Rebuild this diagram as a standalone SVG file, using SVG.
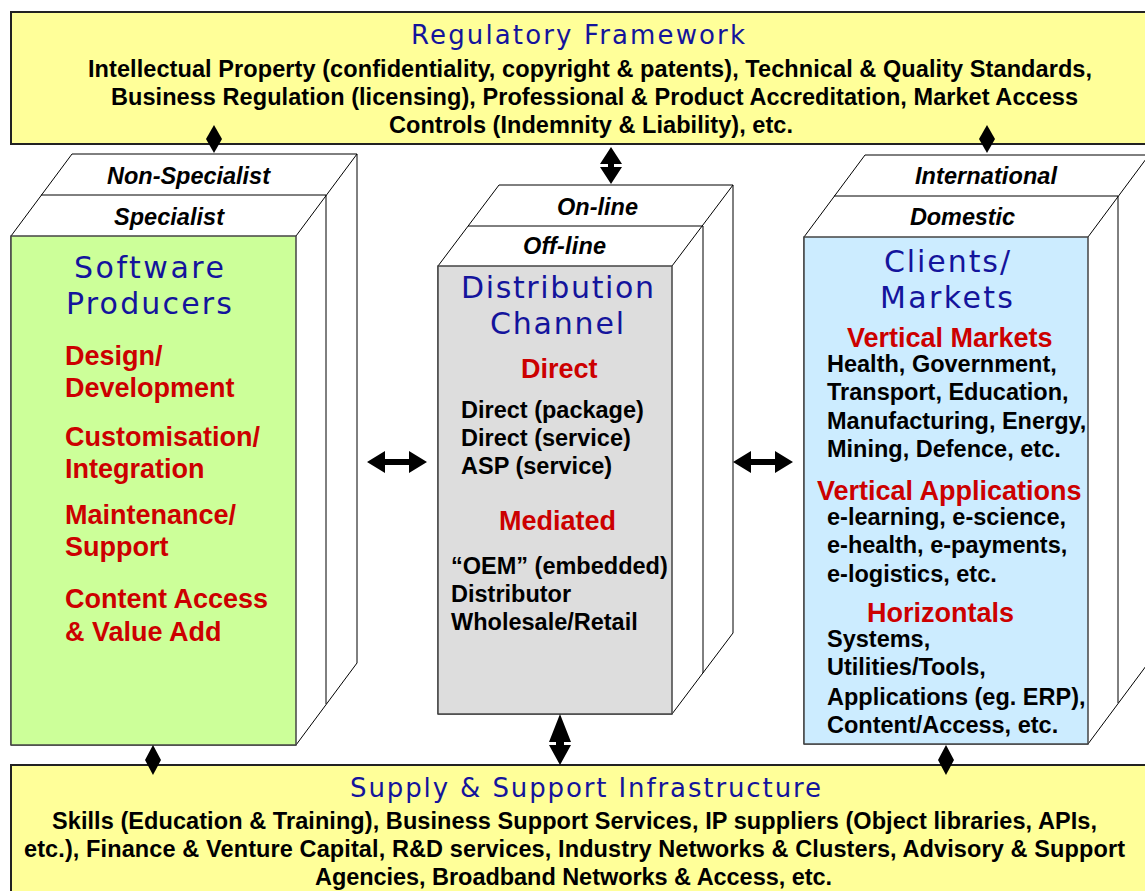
<svg xmlns="http://www.w3.org/2000/svg" width="1145" height="891" viewBox="0 0 1145 891">
<style>
.band{fill:#FFFF99;stroke:#222;stroke-width:2}
.slab{fill:#fff;stroke:#000;stroke-width:1;stroke-linejoin:miter}
.edge{stroke:#000;stroke-width:1;fill:none}
.face{stroke:#444;stroke-width:1.5}
.ttl{font-family:"DejaVu Sans",Verdana,sans-serif;fill:#14149C}
.t1{font-size:26px}
.t2{font-size:30px}
.b{font-family:"Liberation Sans",Arial,sans-serif;font-weight:bold;font-size:23.5px;fill:#000}
.i{font-family:"Liberation Sans",Arial,sans-serif;font-weight:bold;font-style:italic;font-size:23.5px;fill:#000}
.r{font-family:"Liberation Sans",Arial,sans-serif;font-weight:bold;font-size:27px;fill:#CC0000}
.arr{fill:#000}
</style>

<g id="regulatory-framework">
<rect class="band" x="11" y="12" width="1150" height="132"/>
<text class="ttl t1" x="411" y="44" textLength="334" lengthAdjust="spacing">Regulatory Framework</text>
<text class="b" x="88" y="77" textLength="1004" lengthAdjust="spacing">Intellectual Property (confidentiality, copyright &amp; patents), Technical &amp; Quality Standards,</text>
<text class="b" x="111" y="105" textLength="967" lengthAdjust="spacing">Business Regulation (licensing), Professional &amp; Product Accreditation, Market Access</text>
<text class="b" x="389" y="133" textLength="404" lengthAdjust="spacing">Controls (Indemnity &amp; Liability), etc.</text>
</g>

<g id="supply-support">
<rect class="band" x="11" y="765" width="1150" height="140"/>
<text class="ttl t1" x="350" y="797" textLength="471" lengthAdjust="spacing">Supply &amp; Support Infrastructure</text>
<text class="b" x="52" y="829" textLength="1045" lengthAdjust="spacing">Skills (Education &amp; Training), Business Support Services, IP suppliers (Object libraries, APIs,</text>
<text class="b" x="24" y="857" textLength="1101" lengthAdjust="spacing">etc.), Finance &amp; Venture Capital, R&amp;D services, Industry Networks &amp; Clusters, Advisory &amp; Support</text>
<text class="b" x="315" y="885" textLength="517" lengthAdjust="spacing">Agencies, Broadband Networks &amp; Access, etc.</text>
</g>

<g id="software-producers">
<polygon class="slab" points="11,236 72,154 357,154 357,663 296,745 11,745"/>
<line class="edge" x1="41" y1="195" x2="326" y2="195"/>
<line class="edge" x1="326" y1="195" x2="326" y2="704"/>
<line class="edge" x1="296" y1="236" x2="357" y2="154"/>
<rect class="face" x="11" y="236" width="285" height="509" fill="#CCFF99"/>
<text class="i" x="107" y="184" textLength="163" lengthAdjust="spacing">Non-Specialist</text>
<text class="i" x="114" y="225" textLength="110" lengthAdjust="spacing">Specialist</text>
<text class="ttl t2" x="74" y="278" textLength="150" lengthAdjust="spacing">Software</text>
<text class="ttl t2" x="66" y="314" textLength="166" lengthAdjust="spacing">Producers</text>
<text class="r" x="65" y="365">Design/</text>
<text class="r" x="65" y="397">Development</text>
<text class="r" x="65" y="446">Customisation/</text>
<text class="r" x="65" y="478">Integration</text>
<text class="r" x="65" y="524">Maintenance/</text>
<text class="r" x="65" y="556">Support</text>
<text class="r" x="65" y="608">Content Access</text>
<text class="r" x="65" y="641">&amp; Value Add</text>
</g>

<g id="distribution-channel">
<polygon class="slab" points="438,266 499,185 733,185 733,633 672,714 438,714"/>
<line class="edge" x1="468" y1="226" x2="703" y2="226"/>
<line class="edge" x1="703" y1="226" x2="703" y2="673"/>
<line class="edge" x1="672" y1="266" x2="733" y2="185"/>
<rect class="face" x="438" y="266" width="234" height="448" fill="#DDDDDD"/>
<text class="i" x="557" y="215" textLength="81" lengthAdjust="spacing">On-line</text>
<text class="i" x="523" y="254" textLength="83" lengthAdjust="spacing">Off-line</text>
<text class="ttl t2" x="461" y="298" textLength="193" lengthAdjust="spacing">Distribution</text>
<text class="ttl t2" x="490" y="334" textLength="134" lengthAdjust="spacing">Channel</text>
<text class="r" x="521" y="378">Direct</text>
<text class="b" x="461" y="418">Direct (package)</text>
<text class="b" x="461" y="446">Direct (service)</text>
<text class="b" x="461" y="474">ASP (service)</text>
<text class="r" x="499" y="530">Mediated</text>
<text class="b" x="451" y="574">“OEM” (embedded)</text>
<text class="b" x="451" y="602">Distributor</text>
<text class="b" x="451" y="630">Wholesale/Retail</text>
</g>

<g id="clients-markets">
<polygon class="slab" points="804,237 865,155 1149,155 1149,662 1088,744 804,744"/>
<line class="edge" x1="834" y1="196" x2="1118" y2="196"/>
<line class="edge" x1="1118" y1="196" x2="1118" y2="703"/>
<line class="edge" x1="1088" y1="237" x2="1149" y2="155"/>
<rect class="face" x="804" y="237" width="284" height="507" fill="#CCECFF"/>
<text class="i" x="915" y="184" textLength="142" lengthAdjust="spacing">International</text>
<text class="i" x="910" y="225" textLength="105" lengthAdjust="spacing">Domestic</text>
<text class="ttl t2" x="884" y="272" textLength="126" lengthAdjust="spacing">Clients/</text>
<text class="ttl t2" x="880" y="308" textLength="133" lengthAdjust="spacing">Markets</text>
<text class="r" x="847" y="347">Vertical Markets</text>
<text class="b" x="827" y="372">Health, Government,</text>
<text class="b" x="827" y="400">Transport, Education,</text>
<text class="b" x="827" y="429">Manufacturing, Energy,</text>
<text class="b" x="827" y="457">Mining, Defence, etc.</text>
<text class="r" x="817" y="500">Vertical Applications</text>
<text class="b" x="827" y="525">e-learning, e-science,</text>
<text class="b" x="827" y="553">e-health, e-payments,</text>
<text class="b" x="827" y="582">e-logistics, etc.</text>
<text class="r" x="867" y="622">Horizontals</text>
<text class="b" x="827" y="647">Systems,</text>
<text class="b" x="827" y="675">Utilities/Tools,</text>
<text class="b" x="827" y="705">Applications (eg. ERP),</text>
<text class="b" x="827" y="733">Content/Access, etc.</text>
</g>

<g id="connectors">
<polygon class="arr" points="214,125 222,139 214,153 206,139"/>
<polygon class="arr" points="987,125 995,139 987,153 979,139"/>
<polygon class="arr" points="611,147 622,164 614,164 614,167 622,167 611,184 600,167 608,167 608,164 600,164"/>
<polygon class="arr" points="153,745 161,760 153,775 145,760"/>
<polygon class="arr" points="946,745 954,760 946,775 938,760"/>
<polygon class="arr" points="560,714 571,742 564,742 564,745 571,745 560,765 549,745 556,745 556,742 549,742"/>
<polygon class="arr" points="367,462 385,451 385,459 409,459 409,451 427,462 409,473 409,465 385,465 385,473"/>
<polygon class="arr" points="733,462 751,451 751,459 775,459 775,451 793,462 775,473 775,465 751,465 751,473"/>
</g>
</svg>
